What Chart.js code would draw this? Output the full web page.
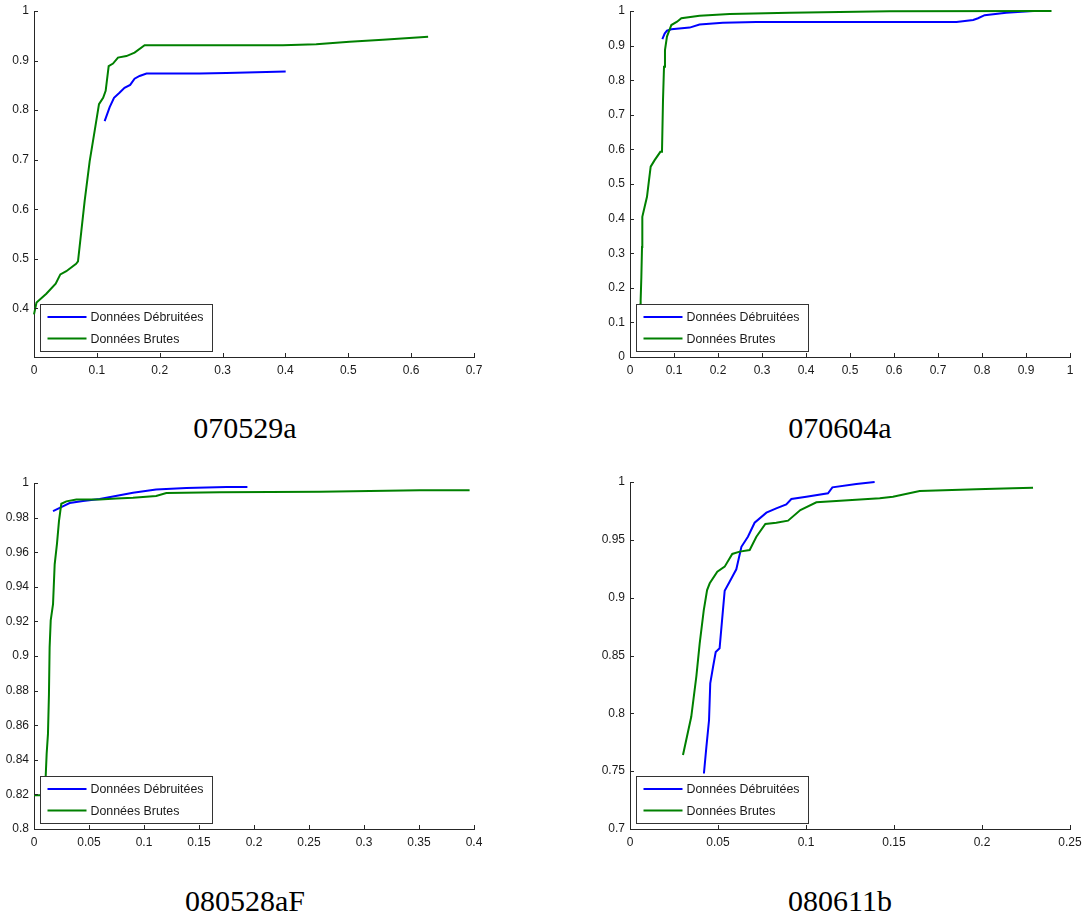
<!DOCTYPE html>
<html>
<head>
<meta charset="utf-8">
<script src="https://cdn.jsdelivr.net/npm/chart.js@4.4.1/dist/chart.umd.min.js"></script>
<style>
  html, body { margin: 0; padding: 0; background: #fff; }
  body { width: 1088px; height: 920px; position: relative; overflow: hidden; }
  .panel { position: absolute; }
  .caption {
    position: absolute;
    width: 200px;
    text-align: center;
    font-family: "Liberation Serif", serif;
    font-size: 30px;
    line-height: 30px;
    color: #000;
  }
</style>
</head>
<body>
<script>
// series names (legend order)
var seriesLabels = ["Données Débruitées", "Données Brutes"];
var panelNames = ["070529a", "070604a", "080528aF", "080611b"];

// 070529a
var p1XTicks = [0, 0.1, 0.2, 0.3, 0.4, 0.5, 0.6, 0.7];
var p1YTicks = [0.4, 0.5, 0.6, 0.7, 0.8, 0.9, 1];
var p1BlueX = [0.1124, 0.1204, 0.1273, 0.136, 0.144, 0.153, 0.16, 0.168, 0.179, 0.2636, 0.306, 0.3696, 0.4004];
var p1BlueY = [0.778, 0.806, 0.825, 0.835, 0.845, 0.851, 0.8635, 0.869, 0.874, 0.874, 0.875, 0.877, 0.878];
var p1GreenX = [0, 0.004, 0.0196, 0.0345, 0.0419, 0.0514, 0.067, 0.07, 0.0753, 0.0806, 0.0886, 0.0965, 0.1034, 0.11, 0.114, 0.1188, 0.1257, 0.1336, 0.147, 0.16, 0.176, 0.2636, 0.396, 0.449, 0.502, 0.555, 0.627];
var p1GreenY = [0.388, 0.4117, 0.4296, 0.4498, 0.4687, 0.475, 0.49, 0.495, 0.556, 0.617, 0.697, 0.758, 0.812, 0.825, 0.839, 0.889, 0.894, 0.906, 0.909, 0.916, 0.931, 0.931, 0.931, 0.933, 0.938, 0.942, 0.948];

// 070604a
var p2XTicks = [0, 0.1, 0.2, 0.3, 0.4, 0.5, 0.6, 0.7, 0.8, 0.9, 1];
var p2YTicks = [0, 0.1, 0.2, 0.3, 0.4, 0.5, 0.6, 0.7, 0.8, 0.9, 1];
var p2BlueX = [0.0735, 0.0788, 0.084, 0.094, 0.1356, 0.158, 0.211, 0.287, 0.742, 0.78, 0.791, 0.806, 0.855, 0.916];
var p2BlueY = [0.919, 0.935, 0.943, 0.947, 0.952, 0.961, 0.966, 0.968, 0.968, 0.974, 0.979, 0.988, 0.995, 1.0];
var p2GreenX = [0.022, 0.0235, 0.0242, 0.0258, 0.0273, 0.028, 0.0333, 0.0386, 0.0432, 0.047, 0.056, 0.069, 0.0727, 0.075, 0.0773, 0.0795, 0.084, 0.094, 0.107, 0.1167, 0.158, 0.2265, 0.363, 0.59, 0.958];
var p2GreenY = [0.03, 0.152, 0.164, 0.231, 0.318, 0.405, 0.434, 0.463, 0.511, 0.55, 0.569, 0.593, 0.593, 0.742, 0.839, 0.887, 0.926, 0.9595, 0.969, 0.979, 0.9865, 0.991, 0.995, 0.999, 1.0];

// 080528aF
var p3XTicks = [0, 0.05, 0.1, 0.15, 0.2, 0.25, 0.3, 0.35, 0.4];
var p3YTicks = [0.8, 0.82, 0.84, 0.86, 0.88, 0.9, 0.92, 0.94, 0.96, 0.98, 1];
var p3BlueX = [0.0173, 0.0248, 0.0324, 0.0445, 0.0597, 0.0779, 0.09, 0.111, 0.1385, 0.175, 0.194];
var p3BlueY = [0.9838, 0.9861, 0.9884, 0.9896, 0.9908, 0.9929, 0.9944, 0.9963, 0.9971, 0.9977, 0.9977];
var p3GreenX = [0, 0.0052, 0.0095, 0.0106, 0.0115, 0.0127, 0.0136, 0.0142, 0.0152, 0.0173, 0.0188, 0.0209, 0.0227, 0.0248, 0.0294, 0.0385, 0.0597, 0.0748, 0.09, 0.111, 0.1203, 0.169, 0.26, 0.3506, 0.396];
var p3GreenY = [0.8195, 0.8195, 0.821, 0.83, 0.8435, 0.855, 0.878, 0.905, 0.9206, 0.93, 0.953, 0.965, 0.978, 0.988, 0.9894, 0.9904, 0.9904, 0.991, 0.9915, 0.9925, 0.9942, 0.9946, 0.995, 0.9958, 0.9958];

// 080611b
var p4XTicks = [0, 0.05, 0.1, 0.15, 0.2, 0.25];
var p4YTicks = [0.7, 0.75, 0.8, 0.85, 0.9, 0.95, 1];
var p4BlueX = [0.042, 0.0434, 0.0449, 0.0456, 0.0472, 0.0487, 0.0509, 0.0528, 0.0538, 0.0566, 0.0604, 0.0633, 0.067, 0.0708, 0.0775, 0.0831, 0.0888, 0.0917, 0.1002, 0.1125, 0.115, 0.1286, 0.139];
var p4BlueY = [0.748, 0.771, 0.794, 0.826, 0.8403, 0.853, 0.8562, 0.889, 0.906, 0.9138, 0.9245, 0.944, 0.9527, 0.9648, 0.9735, 0.9772, 0.9807, 0.9853, 0.9873, 0.9902, 0.9954, 0.9983, 1.0];
var p4GreenX = [0.0301, 0.0348, 0.0377, 0.0396, 0.0419, 0.0438, 0.0453, 0.0496, 0.0538, 0.0581, 0.0623, 0.068, 0.0718, 0.0769, 0.0831, 0.0898, 0.0968, 0.1059, 0.1172, 0.1419, 0.1494, 0.1646, 0.1968, 0.2176, 0.229];
var p4GreenY = [0.764, 0.797, 0.832, 0.8605, 0.889, 0.9066, 0.9124, 0.9225, 0.9268, 0.9378, 0.9398, 0.9412, 0.9527, 0.9637, 0.9648, 0.9666, 0.9758, 0.9824, 0.9836, 0.9859, 0.9873, 0.9922, 0.9937, 0.9945, 0.9951];

var BLUE = "rgb(0, 0, 255)";
var GREEN = "rgb(0, 128, 0)";
var AXIS_COLOR = "#262626";
var TEXT_COLOR = "#1a1a1a";
var TICK_LEN = 4;
var Y_AXIS_W = 40;
var X_AXIS_H = 32;
var PAD_TOP = 10;
var PAD_RIGHT = 20;

// plot boxes in page pixels: left, top, right, bottom
var panels = [
  { box: [34, 11, 474, 357], xMin: 0, xMax: 0.7, yMin: 0.302, yMax: 1, xTicks: p1XTicks, yTicks: p1YTicks,
    blue: [p1BlueX, p1BlueY], green: [p1GreenX, p1GreenY], caption: [245, 413] },
  { box: [630, 11, 1070, 357], xMin: 0, xMax: 1, yMin: 0, yMax: 1, xTicks: p2XTicks, yTicks: p2YTicks,
    blue: [p2BlueX, p2BlueY], green: [p2GreenX, p2GreenY], caption: [840, 413] },
  { box: [34, 483, 474, 829], xMin: 0, xMax: 0.4, yMin: 0.8, yMax: 1, xTicks: p3XTicks, yTicks: p3YTicks,
    blue: [p3BlueX, p3BlueY], green: [p3GreenX, p3GreenY], caption: [245, 886] },
  { box: [630, 482, 1070, 829], xMin: 0, xMax: 0.25, yMin: 0.7, yMax: 1, xTicks: p4XTicks, yTicks: p4YTicks,
    blue: [p4BlueX, p4BlueY], green: [p4GreenX, p4GreenY], caption: [840, 886] },
];

function toPoints(xs, ys) {
  return xs.map(function (x, i) { return { x: x, y: ys[i] }; });
}

function fmtTick(v) {
  return String(+v.toFixed(4));
}

// MATLAB-style ticks pointing into the plot
var inwardTicks = {
  id: "inwardTicks",
  afterDraw: function (chart) {
    var ctx = chart.ctx, a = chart.chartArea;
    var xs = chart.scales.x, ys = chart.scales.y;
    ctx.save();
    ctx.strokeStyle = AXIS_COLOR;
    ctx.lineWidth = 1;
    ctx.beginPath();
    xs.ticks.forEach(function (t) {
      var px = Math.round(xs.getPixelForValue(t.value)) + 0.5;
      ctx.moveTo(px, a.bottom);
      ctx.lineTo(px, a.bottom - TICK_LEN);
    });
    ys.ticks.forEach(function (t) {
      var py = Math.round(ys.getPixelForValue(t.value)) + 0.5;
      ctx.moveTo(a.left, py);
      ctx.lineTo(a.left + TICK_LEN, py);
    });
    ctx.stroke();
    ctx.restore();
  },
};

// boxed legend in the lower-left corner of the axes
var boxLegend = {
  id: "boxLegend",
  afterDraw: function (chart) {
    var ctx = chart.ctx, a = chart.chartArea;
    var w = 172, h = 47;
    var x0 = Math.round(a.left) + 6.5, y0 = Math.round(a.bottom) - 5.5 - h;
    ctx.save();
    ctx.fillStyle = "#fff";
    ctx.fillRect(x0, y0, w, h);
    ctx.strokeStyle = "#333";
    ctx.lineWidth = 1;
    ctx.strokeRect(x0, y0, w, h);
    ctx.font = "12.4px 'Liberation Sans', Arial, sans-serif";
    ctx.textBaseline = "middle";
    ctx.fillStyle = TEXT_COLOR;
    [BLUE, GREEN].forEach(function (col, i) {
      var ly = y0 + 12.5 + i * 21.5;
      ctx.strokeStyle = col;
      ctx.lineWidth = 2;
      ctx.beginPath();
      ctx.moveTo(x0 + 7, ly);
      ctx.lineTo(x0 + 46, ly);
      ctx.stroke();
      ctx.fillText(seriesLabels[i], x0 + 50, ly + 1);
    });
    ctx.restore();
  },
};

function fixedTicks(list) {
  return function (scale) {
    scale.ticks = list.map(function (v) { return { value: v }; });
  };
}

panels.forEach(function (p, idx) {
  var L = p.box[0], T = p.box[1], R = p.box[2], B = p.box[3];
  var wrap = document.createElement("div");
  wrap.className = "panel";
  var cw = R - L + Y_AXIS_W + PAD_RIGHT;
  var ch = B - T + PAD_TOP + X_AXIS_H;
  wrap.style.left = (L - Y_AXIS_W) + "px";
  wrap.style.top = (T - PAD_TOP) + "px";
  wrap.style.width = cw + "px";
  wrap.style.height = ch + "px";
  var canvas = document.createElement("canvas");
  canvas.width = cw;
  canvas.height = ch;
  wrap.appendChild(canvas);
  document.body.appendChild(wrap);

  var cap = document.createElement("div");
  cap.className = "caption";
  cap.textContent = panelNames[idx];
  cap.style.left = (p.caption[0] - 100) + "px";
  cap.style.top = p.caption[1] + "px";
  document.body.appendChild(cap);

  var tickFont = { family: "'Liberation Sans', Arial, sans-serif", size: 12 };

  new Chart(canvas, {
    type: "scatter",
    data: {
      datasets: [
        { label: seriesLabels[0], data: toPoints(p.blue[0], p.blue[1]), borderColor: BLUE,
          showLine: true, pointRadius: 0, borderWidth: 2, tension: 0, order: 1, clip: false },
        { label: seriesLabels[1], data: toPoints(p.green[0], p.green[1]), borderColor: GREEN,
          showLine: true, pointRadius: 0, borderWidth: 2, tension: 0, order: 0, clip: false },
      ],
    },
    options: {
      responsive: false,
      animation: false,
      devicePixelRatio: 1,
      layout: { padding: { left: 0, top: PAD_TOP, right: PAD_RIGHT, bottom: 0 } },
      plugins: { legend: { display: false }, tooltip: { enabled: false } },
      scales: {
        x: {
          type: "linear",
          min: p.xMin,
          max: p.xMax,
          afterBuildTicks: fixedTicks(p.xTicks),
          afterFit: function (s) { s.height = X_AXIS_H; s.paddingLeft = 0; s.paddingRight = 0; },
          grid: { display: true, drawOnChartArea: false, drawTicks: false },
          border: { display: true, color: AXIS_COLOR, width: 1 },
          ticks: { autoSkip: false, maxRotation: 0, padding: 6, color: TEXT_COLOR, font: tickFont, callback: fmtTick },
        },
        y: {
          type: "linear",
          min: p.yMin,
          max: p.yMax,
          afterBuildTicks: fixedTicks(p.yTicks),
          afterFit: function (s) { s.width = Y_AXIS_W; s.paddingTop = 0; s.paddingBottom = 0; },
          grid: { display: true, drawOnChartArea: false, drawTicks: false },
          border: { display: true, color: AXIS_COLOR, width: 1 },
          ticks: { autoSkip: false, padding: 5, color: TEXT_COLOR, font: tickFont, callback: fmtTick },
        },
      },
    },
    plugins: [inwardTicks, boxLegend],
  });
});
</script>
</body>
</html>
